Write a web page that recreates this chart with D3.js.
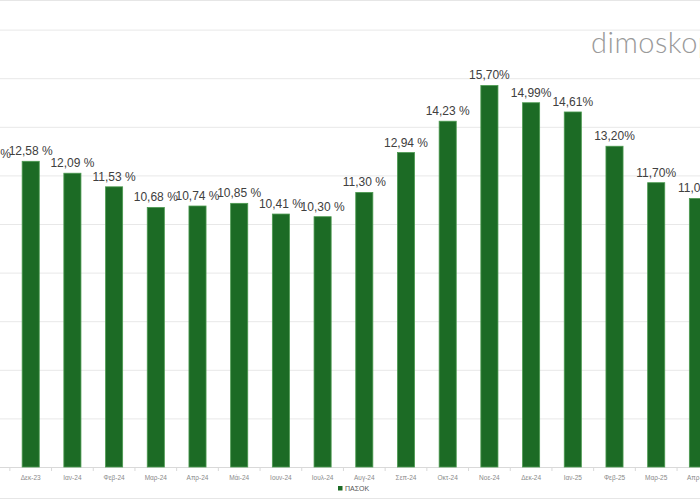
<!DOCTYPE html>
<html><head><meta charset="utf-8">
<script src="https://cdn.jsdelivr.net/npm/d3@7"></script>
<style>html,body{margin:0;padding:0;background:#fff;overflow:hidden}</style>
</head><body>
<svg id="c" width="700" height="500"></svg>
<script>
const categories = ["Νοε-23","Δεκ-23","Ιαν-24","Φεβ-24","Μαρ-24","Απρ-24","Μάι-24","Ιουν-24","Ιουλ-24","Αυγ-24","Σεπ-24","Οκτ-24","Νοε-24","Δεκ-24","Ιαν-25","Φεβ-25","Μαρ-25","Απρ-25"];
const values = [12.45,12.58,12.09,11.53,10.68,10.74,10.85,10.41,10.30,11.30,12.94,14.23,15.70,14.99,14.61,13.20,11.70,11.05];
const labels = ["12,45 %","12,58 %","12,09 %","11,53 %","10,68 %","10,74 %","10,85 %","10,41 %","10,30 %","11,30 %","12,94 %","14,23 %","15,70%","14,99%","14,61%","13,20%","11,70%","11,05%"];
const yTicks = [0,2,4,6,8,10,12,14,16,18];
const seriesName = "ΠΑΣΟΚ";

const svg = d3.select("#c");
const W = 700, H = 500;
const step = 41.7;
const x0 = -11 - step/2;
const x = d3.scaleBand().domain(categories).range([x0, x0 + step*categories.length]).paddingInner(0.59).paddingOuter(0.295);
const y = d3.scaleLinear().domain([0,18]).range([467, 29.6]);

// frame lines
svg.append("line").attr("x1",0).attr("x2",W).attr("y1",0.5).attr("y2",0.5).attr("stroke","#e6e6e6");
svg.append("line").attr("x1",0).attr("x2",W).attr("y1",498.5).attr("y2",498.5).attr("stroke","#e6e6e6");

// gridlines
svg.append("g")
  .call(d3.axisLeft(y).tickValues(yTicks).tickSize(-W).tickFormat(""))
  .call(g=>g.select(".domain").remove())
  .call(g=>g.selectAll("line").attr("stroke", d=> d===0 ? "#d9d9d9" : "#e8e8e8").attr("x1",0).attr("x2",W));

// watermark
svg.append("text").attr("x",591).attr("y",53).text("dimoskopisis")
  .attr("font-family","Lato, 'Open Sans', sans-serif").attr("font-weight",300)
  .attr("font-size",29).attr("fill","#9a9a9a").attr("letter-spacing",0.5);

// x axis (first category lies outside the visible area)
const xa = svg.append("g").attr("transform",`translate(0,${y(0)})`)
  .call(d3.axisBottom(x).tickValues(categories.slice(1)).tickSize(0).tickPadding(8));
xa.select(".domain").remove();
xa.selectAll("text").attr("font-family","'Liberation Sans', Arial, sans-serif").attr("font-size",6.5).attr("fill","#8a8a8a");
// small category boundary ticks
svg.append("g").selectAll("line").data(categories).join("line")
  .attr("x1",d=>x(d)-x.step()*x.paddingInner()/2).attr("x2",d=>x(d)-x.step()*x.paddingInner()/2)
  .attr("y1",y(0)).attr("y2",y(0)+4).attr("stroke","#d9d9d9");

// bars
svg.append("g").selectAll("rect").data(values).join("rect")
  .attr("x",(d,i)=>x(categories[i])).attr("width",x.bandwidth())
  .attr("y",d=>y(d)).attr("height",d=>y(0)-y(d))
  .attr("fill","#1c6b25").attr("stroke","#4c9a50").attr("stroke-width",0.8);

// data labels
svg.append("g").selectAll("text").data(values).join("text")
  .attr("x",(d,i)=>x(categories[i])+x.bandwidth()/2).attr("y",d=>y(d)-6)
  .attr("text-anchor","middle").text((d,i)=>labels[i])
  .attr("font-family","'Liberation Sans', Arial, sans-serif").attr("font-size",12).attr("fill","#404040");

// legend
const lg = svg.append("g").attr("transform","translate(338,485)");
lg.append("rect").attr("width",4.5).attr("height",4.5).attr("y",1).attr("fill","#1c6b25");
lg.append("text").attr("x",7).attr("y",6).text(seriesName)
  .attr("font-family","'Liberation Sans', Arial, sans-serif").attr("font-size",7).attr("fill","#555");
</script>
</body></html>
